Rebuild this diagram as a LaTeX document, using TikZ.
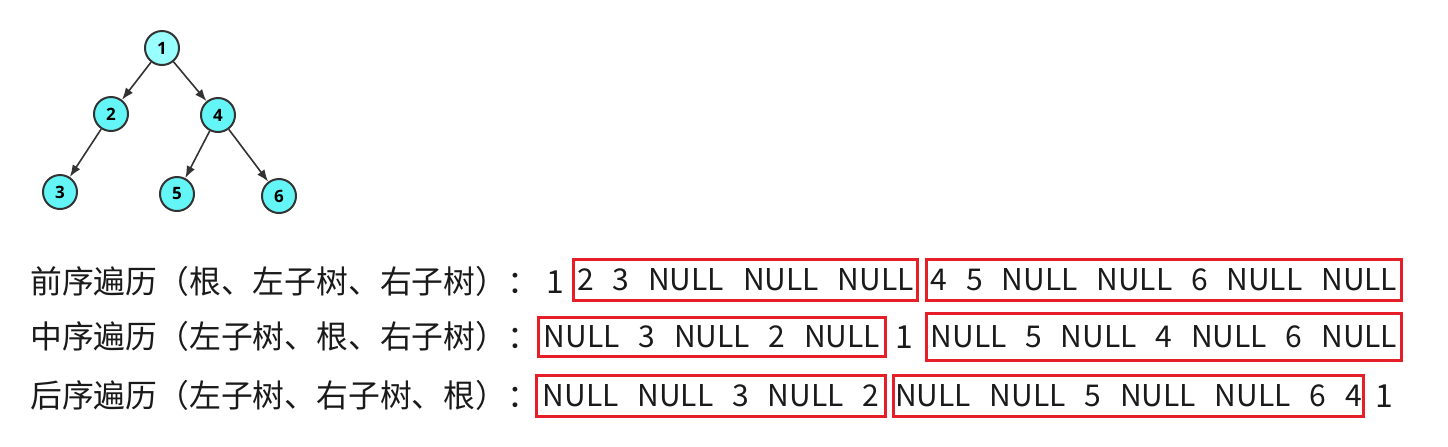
\documentclass[tikz,border=0pt]{standalone}
\usepackage{fontspec}
\setmainfont{Noto Sans CJK SC}[WordSpace=2.8]
\newfontfamily\numfont{Open Sans}
\usepackage{tikz}
\usetikzlibrary{shapes,arrows.meta}

\definecolor{rootfill}{RGB}{153,255,255}
\definecolor{leaffill}{RGB}{100,246,246}
\definecolor{edgegray}{RGB}{51,51,51}
\definecolor{boxred}{RGB}{230,30,40}
\definecolor{textgray}{RGB}{26,26,26}

\tikzset{
  treenode/.style={circle,draw=edgegray,line width=1pt,fill=leaffill,
    minimum size=17pt,inner sep=0pt,font=\numfont\bfseries\fontsize{8.5pt}{9pt}\selectfont},
  edge/.style={draw=edgegray,line width=0.8pt,-{Latex[length=6pt,width=4.5pt]}},
  rowlabel/.style={anchor=base west,inner sep=0pt,text=textgray,
    font=\fontsize{15.9pt}{18pt}\selectfont},
  seqbox/.style={draw=boxred,line width=1.5pt,inner sep=0pt,text=textgray,
    font=\fontsize{15pt}{18pt}\selectfont}
}

\begin{document}
\begin{tikzpicture}[x=0.5pt,y=-0.5pt]
\useasboundingbox (0,0) rectangle (1448,446);

% tree
\node[treenode,fill=rootfill] (n1) at (162,48) {1};
\foreach \n/\x/\y in {2/111/114,4/218/115,3/60/192,5/177/194,6/279/196}
  \node[treenode] (n\n) at (\x,\y) {\n};
\foreach \a/\b in {1/2,1/4,2/3,4/5,4/6}
  \draw[edge] (n\a) -- (n\b);

% preorder
\node[rowlabel] (pre) at (30,293) {前序遍历（根、左子树、右子树）：};
\node[rowlabel] (preroot) at (546,293) {1};
\node[seqbox,minimum width=172pt,minimum height=20.5pt] (preleft) at (745.5,280) {2 3 NULL NULL NULL};
\node[seqbox,minimum width=237.5pt,minimum height=20.5pt] (preright) at (1164,280) {4 5 NULL NULL 6 NULL NULL};

% inorder
\node[rowlabel] (in) at (30,348) {中序遍历（左子树、根、右子树）：};
\node[seqbox,minimum width=173.5pt,minimum height=19.5pt] (inleft) at (712,337) {NULL 3 NULL 2 NULL};
\node[rowlabel] (inroot) at (895,348) {1};
\node[seqbox,minimum width=237.5pt,minimum height=23.5pt] (inright) at (1164,337) {NULL 5 NULL 4 NULL 6 NULL};

% postorder
\node[rowlabel] (post) at (30,407) {后序遍历（左子树、右子树、根）：};
\node[seqbox,minimum width=174.5pt,minimum height=20.5pt] (postleft) at (711,396) {NULL NULL 3 NULL 2};
\node[seqbox,minimum width=235pt,minimum height=20.5pt] (postright) at (1128.5,396) {NULL NULL 5 NULL NULL 6 4};
\node[rowlabel] (postroot) at (1375,407) {1};

\end{tikzpicture}
\end{document}
